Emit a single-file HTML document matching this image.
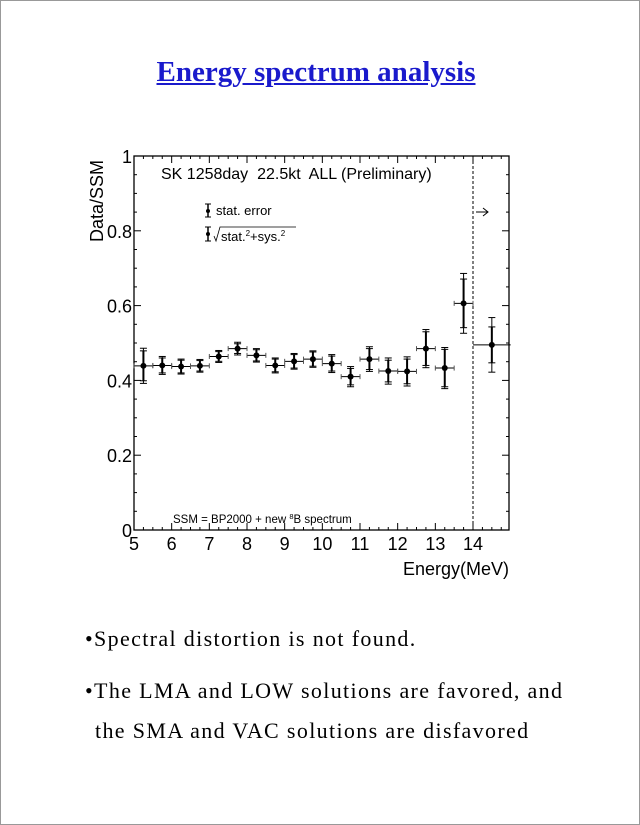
<!DOCTYPE html>
<html><head><meta charset="utf-8">
<style>
html,body{margin:0;padding:0;background:#fff;}
#page{position:relative;width:638px;height:823px;border:1px solid #999;overflow:hidden;font-family:"Liberation Serif",serif;}
.t{position:absolute;white-space:nowrap;}
.b{font-size:22px;letter-spacing:1.35px;}
</style></head>
<body>
<div id="page">
<div class="t" style="left:0;width:630px;text-align:center;top:55px;font-size:29px;font-weight:bold;color:#1a1acc;text-decoration:underline;">Energy spectrum analysis</div>
<svg id="chart" width="640" height="600" style="position:absolute;left:0;top:0;font-family:'Liberation Sans',sans-serif;"></svg>
<div class="t b" style="left:84px;top:625px;">•Spectral distortion is not found.</div>
<div class="t b" style="left:84px;top:677px;">•The LMA and LOW solutions are favored, and</div>
<div class="t b" style="left:94px;top:717px;">the SMA and VAC solutions are disfavored</div>
</div>
<script>
const energies=[5.25,5.75,6.25,6.75,7.25,7.75,8.25,8.75,9.25,9.75,10.25,10.75,11.25,11.75,12.25,12.75,13.25,13.75,14.5];
const halfWidths=[0.25,0.25,0.25,0.25,0.25,0.25,0.25,0.25,0.25,0.25,0.25,0.25,0.25,0.25,0.25,0.25,0.25,0.25,0.5];
const ratios=[0.439,0.44,0.437,0.439,0.464,0.485,0.467,0.44,0.451,0.457,0.445,0.41,0.457,0.425,0.424,0.485,0.433,0.606,0.495];
const statErr=[0.04,0.02,0.017,0.014,0.013,0.013,0.015,0.017,0.018,0.019,0.02,0.022,0.028,0.029,0.033,0.045,0.05,0.065,0.048];
const totErr=[0.047,0.024,0.02,0.017,0.016,0.017,0.018,0.02,0.021,0.022,0.024,0.027,0.033,0.035,0.039,0.051,0.055,0.08,0.073];
const xTicks=[5,6,7,8,9,10,11,12,13,14];
const yTicks=[0,0.2,0.4,0.6,0.8,1];
const yTickLabels=["0","0.2","0.4","0.6","0.8","1"];
const X0=133,X1=508,Y0=529,Y1=155;
const sx=v=>X0+(v-5)*(472-133)/9;
const sy=v=>Y0-(v)*(Y0-Y1);
const svg=document.getElementById('chart');
const NS='http://www.w3.org/2000/svg';
function mk(tag,attrs,parent){const e=document.createElementNS(NS,tag);for(const k in attrs)e.setAttribute(k,attrs[k]);(parent||svg).appendChild(e);return e;}
function txt(s,attrs){const e=mk('text',attrs);e.textContent=s;return e;}
const frame=mk('rect',{x:X0,y:Y1,width:X1-X0,height:Y0-Y1,fill:'none',stroke:'#000','stroke-width':1.3});


const dash=mk('line',{x1:sx(14),x2:sx(14),y1:Y1,y2:Y0,stroke:'#000','stroke-dasharray':'3,2','stroke-width':1});


for(let v=5;v<=14.95;v+=0.25){const x=sx(v),L=(Math.abs(v-Math.round(v))<1e-6)?7:3;
 mk('line',{x1:x,x2:x,y1:Y0,y2:Y0-L,stroke:'#000','stroke-width':1});
 mk('line',{x1:x,x2:x,y1:Y1,y2:Y1+L,stroke:'#000','stroke-width':1});}
for(let v=0;v<=1.001;v+=0.05){const y=sy(v),L=(Math.abs(v*5-Math.round(v*5))<1e-6)?7:3;
 mk('line',{x1:X0,x2:X0+L,y1:y,y2:y,stroke:'#000','stroke-width':1});
 mk('line',{x1:X1,x2:X1-L,y1:y,y2:y,stroke:'#000','stroke-width':1});}
xTicks.forEach(v=>{const t=txt(String(v),{x:sx(v),y:Y0+20,'font-size':18,'text-anchor':'middle'});
 
 });
yTicks.forEach((v,i)=>{const t=txt(yTickLabels[i],{x:X0-2,y:sy(v)+7,'font-size':18,'text-anchor':'end'});
 
 });
const yt=txt('Data/SSM',{x:0,y:0,'font-size':18,'text-anchor':'middle',transform:'translate(102,200) rotate(-90)'});


const xt=txt('Energy(MeV)',{x:508,y:574,'font-size':18,'text-anchor':'end'});


const hd=txt('SK 1258day  22.5kt  ALL (Preliminary)',{x:160,y:178,'font-size':16,style:'white-space:pre'});


const ft=txt('',{x:172,y:522,'font-size':11.5});
ft.innerHTML='SSM = BP2000 + new <tspan dy="-4" font-size="7.5">8</tspan><tspan dy="4">B spectrum</tspan>';


const lg=mk('g',{});


mk('line',{x1:207,x2:207,y1:203,y2:216,stroke:'#000','stroke-width':1.5},lg);
mk('line',{x1:204,x2:210,y1:203,y2:203,stroke:'#000'},lg);mk('line',{x1:204,x2:210,y1:216,y2:216,stroke:'#000'},lg);
mk('circle',{cx:207,cy:210,r:2,fill:'#000'},lg);
txt('stat. error',{x:215,y:214,'font-size':13});
mk('line',{x1:207,x2:207,y1:226,y2:240,stroke:'#000','stroke-width':1.5},lg);
mk('line',{x1:204,x2:210,y1:226,y2:226,stroke:'#000'},lg);mk('line',{x1:204,x2:210,y1:240,y2:240,stroke:'#000'},lg);
mk('circle',{cx:207,cy:233,r:2,fill:'#000'},lg);
mk('polyline',{points:'213,235 215,240 219,226 295,226',fill:'none',stroke:'#000','stroke-width':0.8},lg);
const l2=txt('',{x:220,y:240,'font-size':13});
l2.innerHTML='stat.<tspan dy="-5" font-size="8">2</tspan><tspan dy="5">+sys.</tspan><tspan dy="-5" font-size="8">2</tspan>';
mk('line',{x1:475,x2:487,y1:211,y2:211,stroke:'#000'});
mk('polyline',{points:'482,207 487,211 482,215',fill:'none',stroke:'#000'});
ratios.forEach((r,i)=>{const g=mk('g',{});
 
 
 const x=sx(energies[i]),y=sy(r);
 const xa=sx(energies[i]-halfWidths[i]),xb=sx(energies[i]+halfWidths[i]);
 mk('line',{x1:xa,x2:xb,y1:y,y2:y,stroke:'#000','stroke-width':1},g);
 if(i<ratios.length-1){mk('line',{x1:xa,x2:xa,y1:y-2.5,y2:y+2.5,stroke:'#555','stroke-width':1},g);
 mk('line',{x1:xb,x2:xb,y1:y-2.5,y2:y+2.5,stroke:'#555','stroke-width':1},g);}
 mk('line',{x1:x,x2:x,y1:sy(r+totErr[i]),y2:sy(r-totErr[i]),stroke:'#000','stroke-width':1},g);
 mk('line',{x1:x,x2:x,y1:sy(r+statErr[i]),y2:sy(r-statErr[i]),stroke:'#000','stroke-width':2},g);
 [totErr[i],-totErr[i],statErr[i],-statErr[i]].forEach(e=>mk('line',{x1:x-3.5,x2:x+3.5,y1:sy(r+e),y2:sy(r+e),stroke:'#000','stroke-width':1},g));
 mk('circle',{cx:x,cy:y,r:3,fill:'#000'},g);
});
</script>
</body></html>
